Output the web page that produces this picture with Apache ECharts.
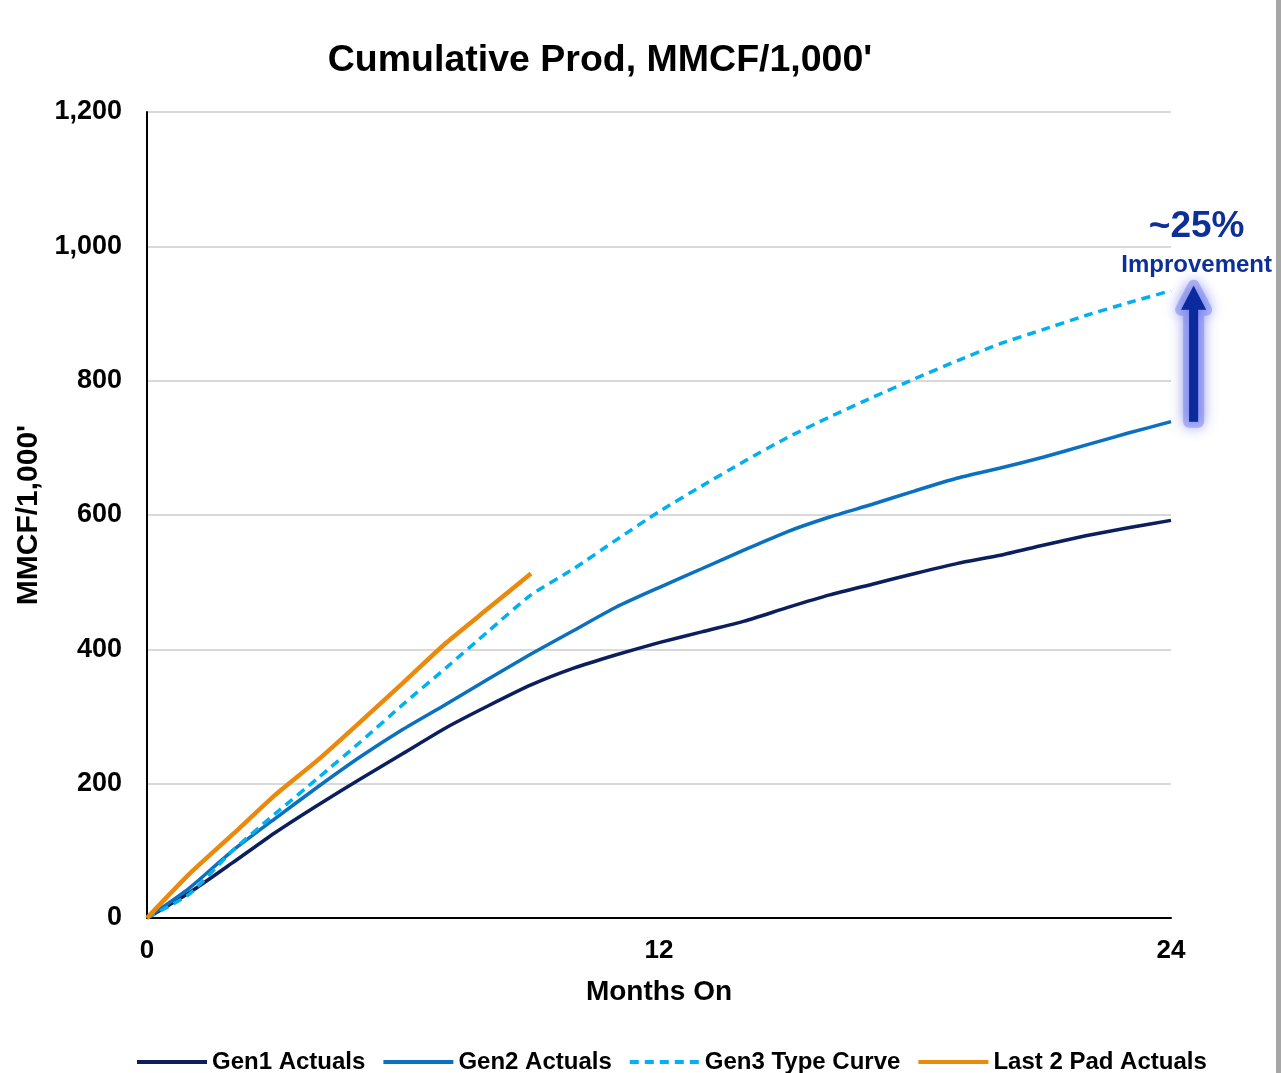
<!DOCTYPE html>
<html>
<head>
<meta charset="utf-8">
<script src="https://cdn.jsdelivr.net/npm/echarts@6/dist/echarts.min.js"></script>
<style>
html,body{margin:0;padding:0;background:#fff;}
#chart{width:1281px;height:1073px;}
</style>
</head>
<body>
<div id="chart"></div>
<script>
const months = [0,1,2,3,4,5,6,7,8,9,10,11,12,13,14,15,16,17,18,19,20,21,22,23,24];
const gen1 = [0,38,82,127,168,207,245,283,316,347,372,392,410,426,442,462,481,497,513,528,540,555,569,581,592];
const gen2 = [0,45,100,148,195,240,281,318,356,393,428,463,492,520,548,575,597,616,636,655,670,686,704,722,739];
const gen3 = [0,36,100,155,208,262,318,372,427,481,520,563,605,643,680,715,746,775,803,830,855,876,897,916,934];
const lastPadMonths = [0,1,2,3,4,5,6,7,8,9];
const lastPad = [0,66,124,183,235,292,350,409,461,513];
const seriesNames = ['Gen1 Actuals','Gen2 Actuals','Gen3 Type Curve','Last 2 Pad Actuals'];
const xTicks = [0,12,24];
const yTicks = [0,200,400,600,800,1000,1200];
const annotationBig = '~25%';
const annotationSmall = 'Improvement';

const FONT = '"Liberation Sans", Arial, sans-serif';
const pair = (xs, ys) => xs.map((x,i)=>[x, ys[i]]);

const chart = echarts.init(document.getElementById('chart'), null, {renderer:'canvas'});
const option = {
  animation:false,
  backgroundColor:'#ffffff',
  textStyle:{fontFamily:FONT},
  title:{
    text:'Cumulative Prod, MMCF/1,000\'',
    left:595, top:37, textAlign:'center',
    textStyle:{fontFamily:FONT,fontSize:37.5,fontWeight:'bold',color:'#000'}
  },
  grid:{left:147,right:110,top:112,bottom:155,containLabel:false},
  legend:{
    data:seriesNames,
    left:135, top:1050, padding:0,
    itemWidth:70, itemHeight:14, itemGap:16,
    itemStyle:{opacity:0},
    lineStyle:{width:4},
    textStyle:{fontFamily:FONT,fontSize:24,fontWeight:'bold',color:'#000'}
  },
  xAxis:{
    type:'value', min:xTicks[0], max:xTicks[xTicks.length-1], interval:12,
    name:'Months On', nameLocation:'middle', nameGap:60,
    nameTextStyle:{fontFamily:FONT,fontSize:28,fontWeight:'bold',color:'#000'},
    axisLine:{show:true,lineStyle:{color:'#000',width:2}},
    axisTick:{show:false},
    splitLine:{show:false},
    axisLabel:{fontFamily:FONT,fontSize:26,fontWeight:'bold',color:'#000',margin:20}
  },
  yAxis:{
    type:'value', min:yTicks[0], max:yTicks[yTicks.length-1], interval:200,
    name:'MMCF/1,000\'', nameLocation:'middle', nameGap:103, nameRotate:90,
    nameTextStyle:{fontFamily:FONT,fontSize:30,fontWeight:'bold',color:'#000'},
    axisLine:{show:true,lineStyle:{color:'#000',width:2}},
    axisTick:{show:false},
    splitLine:{show:true,lineStyle:{color:'#d9d9d9',width:2}},
    axisLabel:{fontFamily:FONT,fontSize:27,fontWeight:'bold',color:'#000',margin:25,
      formatter:v=>v.toLocaleString('en-US')}
  },
  series:[
    {name:seriesNames[0],type:'line',data:pair(months,gen1),symbol:'none',smooth:0.2,
      lineStyle:{color:'#0b1f5e',width:3.5},itemStyle:{color:'#0b1f5e'},z:3},
    {name:seriesNames[1],type:'line',data:pair(months,gen2),symbol:'none',smooth:0.2,
      lineStyle:{color:'#0a70bf',width:3.5},itemStyle:{color:'#0a70bf'},z:3},
    {name:seriesNames[2],type:'line',data:pair(months,gen3),symbol:'none',smooth:0.2,
      lineStyle:{color:'#00b0f0',width:3.5,type:[9,6]},itemStyle:{color:'#00b0f0'},z:4},
    {name:seriesNames[3],type:'line',data:pair(lastPadMonths,lastPad),symbol:'none',smooth:0.2,
      lineStyle:{color:'#ea8a0c',width:4.5},itemStyle:{color:'#ea8a0c'},z:5}
  ]
};
chart.setOption(option);

// annotation arrow from Gen2 end to Gen3 end, just right of the plot
const arrowMonth = 24.53;
const bottomPt = chart.convertToPixel({gridIndex:0}, [arrowMonth, gen2[gen2.length-1]]);
const topPt = chart.convertToPixel({gridIndex:0}, [arrowMonth, gen3[gen3.length-1]]);
const ax = bottomPt[0], yb = bottomPt[1], yt = topPt[1] - 5;
const headLen = 24, headHalf = 12.5, shaftHalf = 4.5;
const arrowPts = [
  [ax - shaftHalf, yb], [ax - shaftHalf, yt + headLen], [ax - headHalf, yt + headLen],
  [ax, yt], [ax + headHalf, yt + headLen], [ax + shaftHalf, yt + headLen], [ax + shaftHalf, yb]
];
chart.setOption({
  graphic:[
    {type:'polygon', shape:{points:arrowPts},
      style:{fill:'#0a2a9e',stroke:'rgba(120,130,235,0.5)',lineWidth:12,lineJoin:'round',
        shadowBlur:14,shadowColor:'rgba(100,110,235,0.9)'}, z:10},
    {type:'polygon', shape:{points:arrowPts}, style:{fill:'#0a2a9e'}, z:11},
    {type:'text', x:ax+3, y:yt-59, style:{text:annotationBig,fill:'#0d2f9a',
      font:'bold 37px '+FONT,textAlign:'center',textVerticalAlign:'middle'}, z:11},
    {type:'text', x:ax+3, y:yt-20, style:{text:annotationSmall,fill:'#0d2f9a',
      font:'bold 24px '+FONT,textAlign:'center',textVerticalAlign:'middle'}, z:11},
    {type:'rect', shape:{x:1276,y:0,width:5,height:1073}, style:{fill:'#a6a6a6'}, z:1}
  ]
});
</script>
</body>
</html>
